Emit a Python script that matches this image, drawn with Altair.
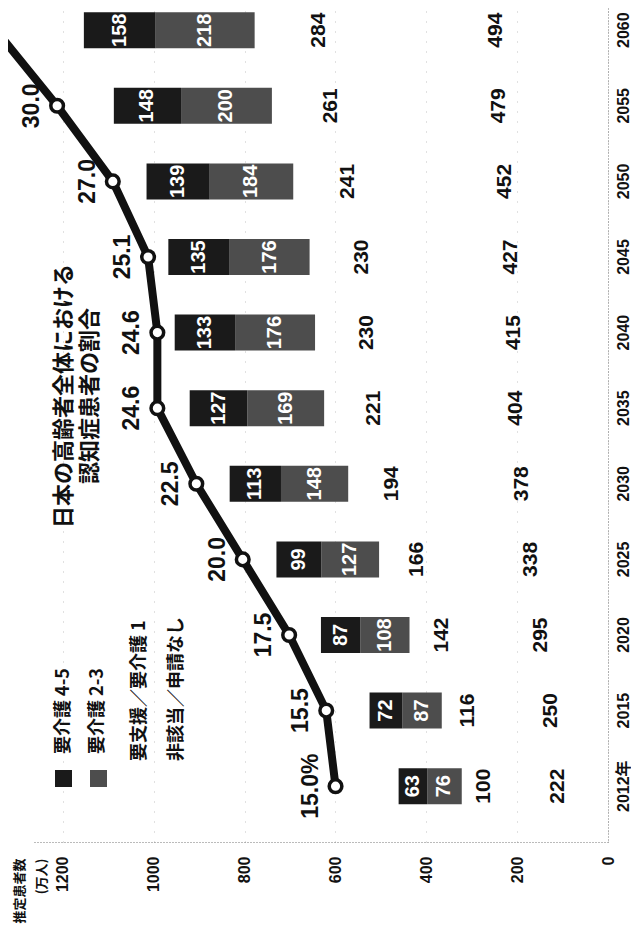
import altair as alt
import pandas as pd

# ---------------- data ----------------
years = [2012, 2015, 2020, 2025, 2030, 2035, 2040, 2045, 2050, 2055, 2060]
care45 = [63, 72, 87, 99, 113, 127, 133, 135, 139, 148, 158]        # 要介護4-5
care23 = [76, 87, 108, 127, 148, 169, 176, 176, 184, 200, 218]      # 要介護2-3
support1 = [100, 116, 142, 166, 194, 221, 230, 230, 241, 261, 284]  # 要支援／要介護1
nonapp = [222, 250, 295, 338, 378, 404, 415, 427, 452, 479, 494]    # 非該当／申請なし
ratio = [15.0, 15.5, 17.5, 20.0, 22.5, 24.6, 24.6, 25.1, 27.0, 30.0, 33.3]

stack_cats = ["非該当／申請なし", "要支援／要介護1", "要介護2-3", "要介護4-5"]
stack_colors = ["transparent", "transparent", "#4d4d4d", "#1a1a1a"]
legend_labels = ["要介護 4-5", "要介護 2-3", "要支援／要介護 1", "非該当／申請なし"]
title_lines = ["日本の高齢者全体における", "認知症患者の割合"]
value_ticks = [0, 200, 400, 600, 800, 1000, 1200]
value_title = ["推定患者数", "(万人)"]

NUM_FONT = "Liberation Sans, Arial, Noto Sans CJK JP"
JP_FONT = "Noto Sans CJK JP"
INK = "#111111"

rows = []
series = [nonapp, support1, care23, care45]
for i, yr in enumerate(years):
    for k, cat in enumerate(stack_cats):
        rows.append({"year": yr, "cat": cat, "order": k, "value": series[k][i]})
bars_df = pd.DataFrame(rows)
line_df = pd.DataFrame({
    "year": years,
    "ratio": ratio,
    "label": [("%.1f%%" % v) if i == 0 else ("%.1f" % v) for i, v in enumerate(ratio)],
})

# ---------------- shared encodings ----------------
y_enc = alt.Y(
    "year:O",
    sort="descending",
    title=None,
    scale=alt.Scale(paddingInner=0.524, paddingOuter=0.278, align=0.1),
    axis=alt.Axis(
        orient="right", labelAngle=270, labelAlign="center", labelBaseline="top",
        labelPadding=7, ticks=False, tickSize=0, domainColor="#777777",
        domainDash=[1, 2], domainWidth=1, labelFont=NUM_FONT, labelFontSize=16,
        labelFontWeight="bold", labelColor=INK,
        labelExpr="datum.value == 2012 ? '2012年' : datum.label",
    ),
)

val_scale = alt.Scale(domain=[0, 1266], reverse=True, nice=False, zero=True)
val_axis = alt.Axis(values=value_ticks, format="d", orient="bottom", labelAngle=270,
                    labelAlign="right", labelBaseline="middle", labelPadding=14,
                    ticks=False, tickSize=0, domainColor="#777777", domainDash=[1, 2],
                    domainWidth=1, grid=True, gridColor="#999999", gridDash=[1, 9],
                    gridOpacity=0.6, labelFont=NUM_FONT, labelFontSize=16,
                    labelFontWeight="bold", labelColor=INK,
                    titleAngle=270, titleAlign="right", titleBaseline="top",
                    titleX=-20, titleY=16, titleLineHeight=22, titleFont=JP_FONT,
                    titleFontSize=13, titleFontWeight="bold", titleColor=INK)

base = alt.Chart(bars_df).transform_stack(
    stack="value", groupby=["year"], as_=["v0", "v1"],
    sort=[alt.SortField("order", order="ascending")],
).transform_calculate(mid="(datum.v0 + datum.v1) / 2")

bars = base.mark_bar().encode(
    x=alt.X("v0:Q", scale=val_scale, title=value_title, axis=val_axis),
    x2="v1:Q",
    y=y_enc,
    color=alt.Color("cat:N", scale=alt.Scale(domain=stack_cats, range=stack_colors), legend=None),
)

dark_text = base.transform_filter(
    alt.FieldOneOfPredicate(field="cat", oneOf=stack_cats[2:])
).mark_text(angle=270, align="center", baseline="middle", color="white",
            font=NUM_FONT, fontSize=20, fontWeight="bold").encode(
    x=alt.X("mid:Q", scale=val_scale, title=value_title, axis=val_axis),
    y=y_enc,
    text="value:Q",
)

light_text = base.transform_filter(
    alt.FieldOneOfPredicate(field="cat", oneOf=stack_cats[:2])
).mark_text(angle=270, align="center", baseline="middle", color=INK,
            font=NUM_FONT, fontSize=21, fontWeight="bold").encode(
    x=alt.X("mid:Q", scale=val_scale, title=value_title, axis=val_axis),
    y=y_enc,
    text="value:Q",
)

bar_layer = alt.layer(bars, dark_text, light_text)

# ---------------- ratio line ----------------
pct_scale = alt.Scale(domain=[0.32, 31.30], reverse=True, nice=False, zero=False)
lbase = alt.Chart(line_df)
line = lbase.mark_line(color=INK, strokeWidth=8).encode(
    x=alt.X("ratio:Q", scale=pct_scale, axis=None), y=y_enc)
pts = lbase.mark_point(shape="circle", filled=True, fill="white", stroke=INK,
                       strokeWidth=3.5, size=160, opacity=1).encode(
    x=alt.X("ratio:Q", scale=pct_scale, axis=None), y=y_enc)
# labels only for the points that fall inside the plotted range (as in the cropped original)
plabels = lbase.transform_filter("datum.ratio <= 31.3").mark_text(
    angle=270, align="center", baseline="middle", dy=-25,
    color=INK, font=NUM_FONT, fontSize=23, fontWeight="bold").encode(
    x=alt.X("ratio:Q", scale=pct_scale, axis=None), y=y_enc, text="label:N")
line_layer = alt.layer(line, pts, plabels)

# ---------------- legend & title annotations ----------------
one = pd.DataFrame({"k": [0]})
ann = []
sw_pos = [(30.5, 770.5), (65.5, 770.5)]
for (sx, sy), col in zip(sw_pos, [stack_colors[3], stack_colors[2]]):
    ann.append(alt.Chart(one).mark_square(size=289, color=col, opacity=1).encode(
        x=alt.value(sx), y=alt.value(sy)))
lg_pos = [(31, 746), (65, 746), (107, 753), (144, 753)]
for (tx, ty), lab in zip(lg_pos, legend_labels):
    ann.append(alt.Chart(one).mark_text(angle=270, align="left", baseline="middle",
                                        font=JP_FONT, fontSize=18, fontWeight="bold",
                                        color=INK).encode(
        x=alt.value(tx), y=alt.value(ty), text=alt.value(lab)))
ann.append(alt.Chart(one).mark_text(angle=270, align="center", baseline="middle",
                                    lineHeight=26, font=JP_FONT, fontSize=22,
                                    fontWeight="bold", color=INK).encode(
    x=alt.value(31), y=alt.value(388), text=alt.value(title_lines)))
ann_layer = alt.layer(*ann)

chart = alt.layer(bar_layer, line_layer, ann_layer).resolve_scale(
    x="independent"
).properties(
    width=575, height=834,
    padding={"left": 25, "top": 0, "right": 23, "bottom": 82},
    autosize=alt.AutoSizeParams(type="none"),
    background="white",
).configure_view(stroke=None)

chart.save("out.html", embed_options={"renderer": "svg", "actions": False})
